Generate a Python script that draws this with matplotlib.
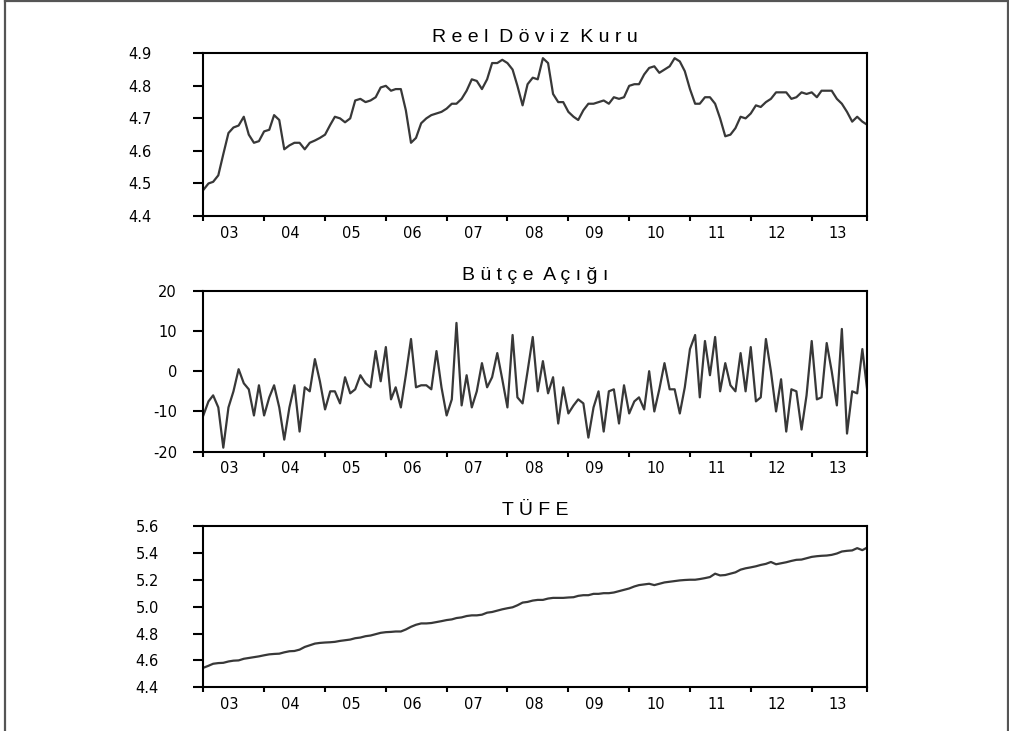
import matplotlib
matplotlib.use("Agg")
import matplotlib.pyplot as plt
import matplotlib.dates as mdates
from matplotlib.ticker import FixedLocator, FixedFormatter, NullFormatter
from matplotlib.lines import Line2D
import numpy as np
import pandas as pd

plt.rcParams["font.family"] = ["DejaVu Sans"]

# monthly observations 2003m1 - 2013m12
dates = pd.date_range("2003-01-01", periods=132, freq="MS")
year_labels = ["03", "04", "05", "06", "07", "08", "09", "10", "11", "12", "13"]

reel_doviz_kuru = [
    4.480, 4.500, 4.505, 4.525, 4.590, 4.655, 4.672, 4.678, 4.705, 4.650, 4.625, 4.630,
    4.660, 4.665, 4.710, 4.695, 4.605, 4.617, 4.625, 4.625, 4.605, 4.625, 4.632, 4.640,
    4.650, 4.680, 4.705, 4.700, 4.688, 4.700, 4.755, 4.760, 4.750, 4.755, 4.765, 4.795,
    4.800, 4.785, 4.790, 4.790, 4.725, 4.625, 4.640, 4.685, 4.700, 4.710, 4.715, 4.720,
    4.730, 4.745, 4.745, 4.760, 4.785, 4.820, 4.815, 4.790, 4.820, 4.870, 4.870, 4.880,
    4.870, 4.850, 4.800, 4.740, 4.805, 4.825, 4.820, 4.885, 4.870, 4.775, 4.750, 4.750,
    4.720, 4.705, 4.695, 4.725, 4.745, 4.745, 4.750, 4.755, 4.745, 4.765, 4.760, 4.765,
    4.800, 4.805, 4.805, 4.835, 4.855, 4.860, 4.840, 4.850, 4.860, 4.885, 4.875, 4.845,
    4.790, 4.745, 4.745, 4.765, 4.765, 4.745, 4.700, 4.645, 4.650, 4.670, 4.705, 4.700,
    4.715, 4.740, 4.735, 4.750, 4.760, 4.780, 4.780, 4.780, 4.760, 4.765, 4.780, 4.775,
    4.780, 4.765, 4.785, 4.785, 4.785, 4.760, 4.745, 4.720, 4.690, 4.705, 4.690, 4.680,
]

butce_acigi = [
    -11.0, -7.5, -6.0, -9.0, -19.0, -9.0, -5.0, 0.5, -3.0, -4.5, -11.0, -3.5,
    -11.0, -6.5, -3.5, -9.0, -17.0, -9.0, -3.5, -15.0, -4.0, -5.0, 3.0, -2.5,
    -9.5, -5.0, -5.0, -8.0, -1.5, -5.5, -4.5, -1.0, -3.0, -4.0, 5.0, -2.5,
    6.0, -7.0, -4.0, -9.0, -1.0, 8.0, -4.0, -3.5, -3.5, -4.5, 5.0, -4.0,
    -11.0, -7.0, 12.0, -8.5, -1.0, -9.0, -5.0, 2.0, -4.0, -1.5, 4.5, -2.0,
    -9.0, 9.0, -6.5, -8.0, 0.0, 8.5, -5.0, 2.5, -5.5, -1.5, -13.0, -4.0,
    -10.5, -8.5, -7.0, -8.0, -16.5, -9.0, -5.0, -15.0, -5.0, -4.5, -13.0, -3.5,
    -10.5, -7.5, -6.5, -9.5, 0.0, -10.0, -4.5, 2.0, -4.5, -4.5, -10.5, -4.0,
    5.5, 9.0, -6.5, 7.5, -1.0, 8.5, -5.0, 2.0, -3.5, -5.0, 4.5, -5.0,
    6.0, -7.5, -6.5, 8.0, 0.0, -10.0, -2.0, -15.0, -4.5, -5.0, -14.5, -6.0,
    7.5, -7.0, -6.5, 7.0, 0.0, -8.5, 10.5, -15.5, -5.0, -5.5, 5.5, -5.0,
]

tufe = [
    4.545, 4.560, 4.575, 4.580, 4.582, 4.592, 4.598, 4.600, 4.612, 4.618, 4.625, 4.630,
    4.638, 4.645, 4.648, 4.650, 4.660, 4.668, 4.670, 4.680, 4.700, 4.712, 4.725, 4.730,
    4.733, 4.735, 4.738, 4.745, 4.750, 4.755, 4.765, 4.770, 4.780, 4.785, 4.795, 4.805,
    4.810, 4.812, 4.815, 4.815, 4.830, 4.850, 4.865, 4.875, 4.875, 4.878, 4.885, 4.892,
    4.900, 4.905, 4.915, 4.920, 4.930, 4.935, 4.935, 4.940, 4.955, 4.960, 4.970, 4.980,
    4.988, 4.995, 5.010, 5.030, 5.035, 5.045, 5.050, 5.050, 5.060, 5.065, 5.065, 5.065,
    5.068, 5.070, 5.080, 5.085, 5.085, 5.095, 5.095, 5.100, 5.100, 5.105, 5.115, 5.125,
    5.135, 5.150, 5.160, 5.165, 5.170, 5.160, 5.170, 5.180, 5.185, 5.190, 5.195, 5.198,
    5.200, 5.200, 5.205, 5.212, 5.220, 5.245, 5.232, 5.235, 5.245, 5.255, 5.275, 5.285,
    5.292, 5.300, 5.310, 5.318, 5.332, 5.315, 5.322, 5.330, 5.340, 5.348, 5.350, 5.360,
    5.370, 5.375, 5.378, 5.380, 5.385, 5.395, 5.410, 5.415, 5.418, 5.435, 5.420, 5.440,
]

titles = ["Reel Döviz Kuru", "Bütçe Açığı", "TÜFE"]
series = [reel_doviz_kuru, butce_acigi, tufe]
yticks_all = [
    [4.4, 4.5, 4.6, 4.7, 4.8, 4.9],
    [-20, -10, 0, 10, 20],
    [4.4, 4.6, 4.8, 5.0, 5.2, 5.4, 5.6],
]
fmts = ["{:.1f}", "{:.0f}", "{:.1f}"]
ypads = [29.5, 11.5, 24.5]

# axes boxes in figure fractions (left, bottom, width, height)
boxes = [
    (0.2015, 0.7045, 0.6581, 0.2226),
    (0.2015, 0.3821, 0.6581, 0.2202),
    (0.2015, 0.0598, 0.6581, 0.2207),
]


def spaced(text):
    # EViews draws its titles with wide letter spacing
    return "  ".join(" ".join(word) for word in text.split(" "))


fig = plt.figure(figsize=(10.09, 7.31), dpi=100)

year_starts = [pd.Timestamp(f"20{y}-01-01") for y in year_labels] + [dates[-1]]
label_pos = [pd.Timestamp(f"20{y}-06-08") for y in year_labels]

for title, values, yticks, fmt, ypad, box in zip(titles, series, yticks_all, fmts, ypads, boxes):
    ax = fig.add_axes(box)
    ax.plot(dates, values, color="#383838", linewidth=1.6)
    ax.set_xlim(dates[0], dates[-1])
    ax.set_ylim(yticks[0], yticks[-1])
    ax.set_yticks(yticks)
    ax.set_yticklabels([fmt.format(v) for v in yticks])

    ax.xaxis.set_major_locator(FixedLocator(mdates.date2num(year_starts)))
    ax.xaxis.set_major_formatter(NullFormatter())
    ax.xaxis.set_minor_locator(FixedLocator(mdates.date2num(label_pos)))
    ax.xaxis.set_minor_formatter(FixedFormatter(year_labels))

    ax.tick_params(axis="x", which="major", direction="out", length=3.8, width=1.5)
    ax.tick_params(axis="x", which="minor", length=0, pad=7, labelsize=10.5)
    ax.tick_params(axis="y", direction="out", length=7.5, width=1.5, pad=ypad,
                   labelsize=10.5)
    for sp in ax.spines.values():
        sp.set_linewidth(1.5)
        sp.set_color("black")
    ax.set_title(spaced(title), fontsize=14, pad=8, family="Liberation Sans")

# thin grey frame round the picture (left, top, right)
frame = dict(color="#555555", linewidth=1.6, transform=fig.transFigure)
fig.add_artist(Line2D([0.0045, 0.0045], [0.0, 0.998], **frame))
fig.add_artist(Line2D([0.0045, 0.999], [0.998, 0.998], **frame))
fig.add_artist(Line2D([0.999, 0.999], [0.0, 0.998], **frame))

fig.savefig("out.png", dpi=100)
